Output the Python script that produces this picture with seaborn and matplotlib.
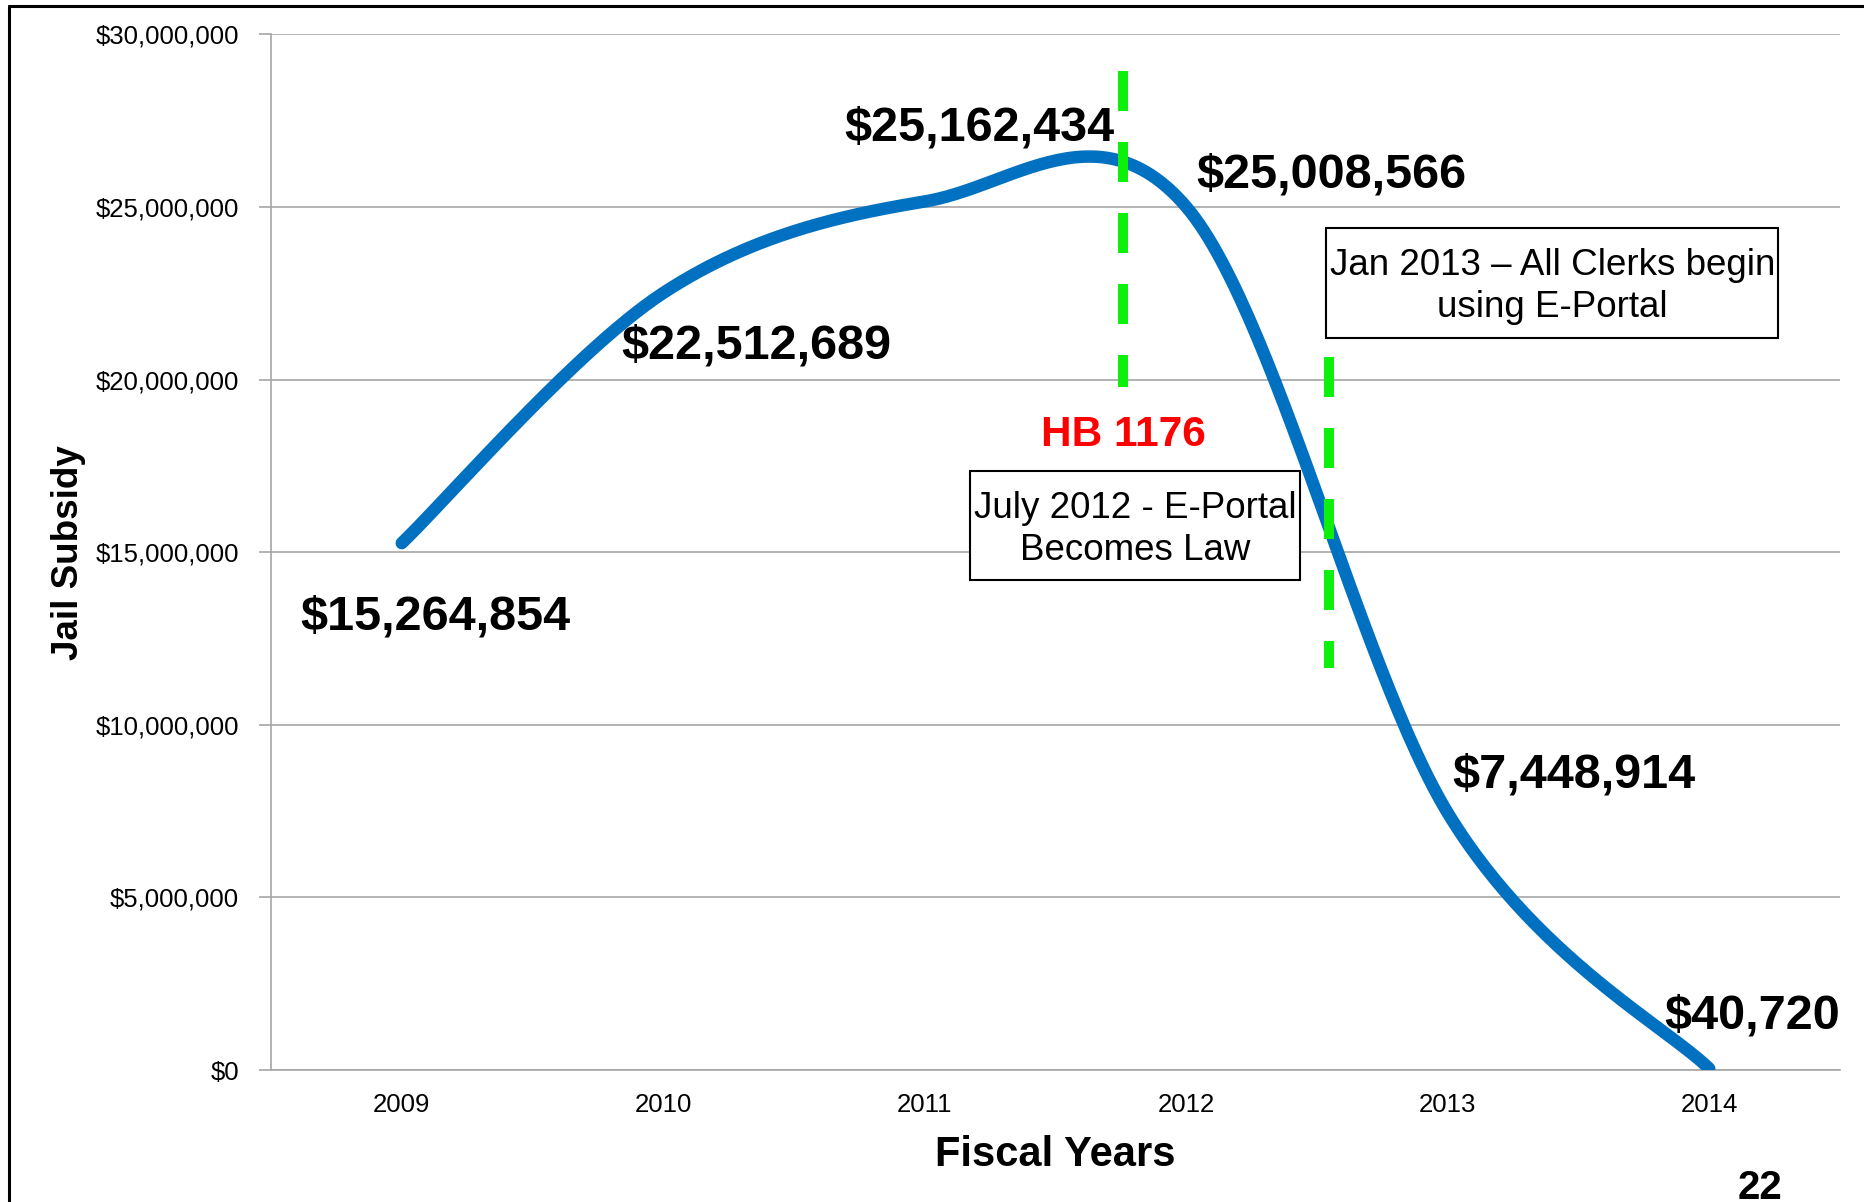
import numpy as np
import pandas as pd
import matplotlib
matplotlib.use("Agg")
import matplotlib.pyplot as plt
import seaborn as sns
from matplotlib.patches import Rectangle
from matplotlib.lines import Line2D
from matplotlib.ticker import FuncFormatter

# Jail subsidy by fiscal year
years = ["2009", "2010", "2011", "2012", "2013", "2014"]
subsidy = [15264854, 22512689, 25162434, 25008566, 7448914, 40720]
value_labels = ["$15,264,854", "$22,512,689", "$25,162,434",
                "$25,008,566", "$7,448,914", "$40,720"]

# where the value labels sit (x in category units, y in dollars)
label_x = [0.127, 1.355, 2.209, 3.555, 4.482, 5.164]
label_y = [13.13e6, 20.98e6, 27.28e6, 25.94e6, 8.545e6, 1.553e6]

sns.set_style("white")
plt.rcParams['font.family'] = ['Liberation Sans', 'DejaVu Sans']
plt.rcParams['text.color'] = 'black'
plt.rcParams['axes.labelcolor'] = 'black'
plt.rcParams['xtick.labelcolor'] = 'black'
plt.rcParams['ytick.labelcolor'] = 'black'

BLUE = "#0070C0"
GREEN = "#0cf00c"
GRID = "#a6a6a6"


def excel_smooth(xv, yv, n=60):
    # Excel style smoothed line: cubic Bezier segments with Catmull-Rom control points
    pts = np.column_stack([xv, yv]).astype(float)
    padded = np.vstack([pts[0], pts, pts[-1]])
    out = []
    for i in range(len(pts) - 1):
        p0, p1, p2, p3 = padded[i], padded[i + 1], padded[i + 2], padded[i + 3]
        c1 = p1 + (p2 - p0) / 6.0
        c2 = p2 - (p3 - p1) / 6.0
        t = np.linspace(0, 1, n)[:, None]
        seg = ((1 - t) ** 3) * p1 + 3 * ((1 - t) ** 2) * t * c1 + 3 * (1 - t) * t ** 2 * c2 + t ** 3 * p2
        out.append(seg if i == 0 else seg[1:])
    return np.vstack(out)


xpos = np.arange(len(years))
curve = excel_smooth(xpos, subsidy)
curve_df = pd.DataFrame({"x": curve[:, 0], "y": curve[:, 1]})

fig = plt.figure(figsize=(18.64, 12.02), dpi=100)
ax = fig.add_axes([0.1454, 0.1098, 0.8417, 0.8615])

# gridlines
ax.set_ylim(0, 30e6)
ax.set_xlim(-0.5, 5.5)
ax.set_yticks(np.arange(0, 30e6 + 1, 5e6))
ax.yaxis.grid(True, color=GRID, lw=1.2)
ax.set_axisbelow(True)

sns.lineplot(data=curve_df, x="x", y="y", sort=False, estimator=None,
             color=BLUE, lw=9, ax=ax, zorder=4, solid_capstyle="round")

# HB 1176 / E-Portal markers
ax.plot([2.759, 2.759], [28.93e6, 19.80e6], color=GREEN, lw=7.2,
        dashes=(4.0, 3.1), dash_capstyle="butt", zorder=5)
ax.plot([3.545, 3.545], [20.67e6, 11.64e6], color=GREEN, lw=7.2,
        dashes=(4.0, 3.1), dash_capstyle="butt", zorder=5)

ax.text(2.759, 18.40e6, "HB 1176", color="#ff0000", fontsize=30.5,
        fontweight="bold", ha="center", va="center", zorder=6)

ax.add_patch(Rectangle((2.173, 14.19e6), 3.436 - 2.173, 17.36e6 - 14.19e6,
                       facecolor="white", edgecolor="black", lw=1.5, zorder=3))
ax.text(2.805, 15.66e6, "July 2012 - E-Portal\nBecomes Law", fontsize=26.5,
        ha="center", va="center", linespacing=1.27, zorder=6)

ax.add_patch(Rectangle((3.536, 21.22e6), 5.264 - 3.536, 24.39e6 - 21.22e6,
                       facecolor="white", edgecolor="black", lw=1.5, zorder=3))
ax.text(4.40, 22.69e6, "Jan 2013 \u2013 All Clerks begin\nusing E-Portal", fontsize=26.5,
        ha="center", va="center", linespacing=1.27, zorder=6)

for lx, ly, txt in zip(label_x, label_y, value_labels):
    ax.text(lx, ly, txt, fontsize=35, fontweight="bold", ha="center",
            va="center", zorder=7)

# axes styling
ax.set_xticks(xpos)
ax.set_xticklabels(years)
ax.set_xticks(np.arange(-0.5, 5.6, 1.0), minor=True)
ax.tick_params(axis="x", which="major", length=0, pad=16.5, labelsize=18.5)
ax.tick_params(axis="x", which="minor", length=9, width=1.2, color=GRID, direction="out")
ax.tick_params(axis="y", length=9, width=1.2, color=GRID, pad=14, labelsize=18.5,
               direction="out", left=True)
ax.yaxis.set_major_formatter(FuncFormatter(lambda v, p: "${:,.0f}".format(v)))

for side in ["top", "right"]:
    ax.spines[side].set_visible(False)
for side in ["left", "bottom"]:
    ax.spines[side].set_color(GRID)
    ax.spines[side].set_linewidth(1.2)

ax.set_xlabel("Fiscal Years", fontsize=30, fontweight="bold", labelpad=13)
ax.set_ylabel("Jail Subsidy", fontsize=26.5, fontweight="bold", labelpad=7)

# slide page number and frame
fig.text(1760 / 1864, 1 - 1199 / 1202, "22", fontsize=29, fontweight="bold",
         ha="center", va="baseline")
fig.add_artist(Line2D([8.5 / 1864, 1], [1 - 6 / 1202] * 2, transform=fig.transFigure,
                      color="black", lw=2.2))
fig.add_artist(Line2D([8.5 / 1864] * 2, [0, 1 - 6 / 1202], transform=fig.transFigure,
                      color="black", lw=2.2))

fig.savefig("out.png", dpi=100)
